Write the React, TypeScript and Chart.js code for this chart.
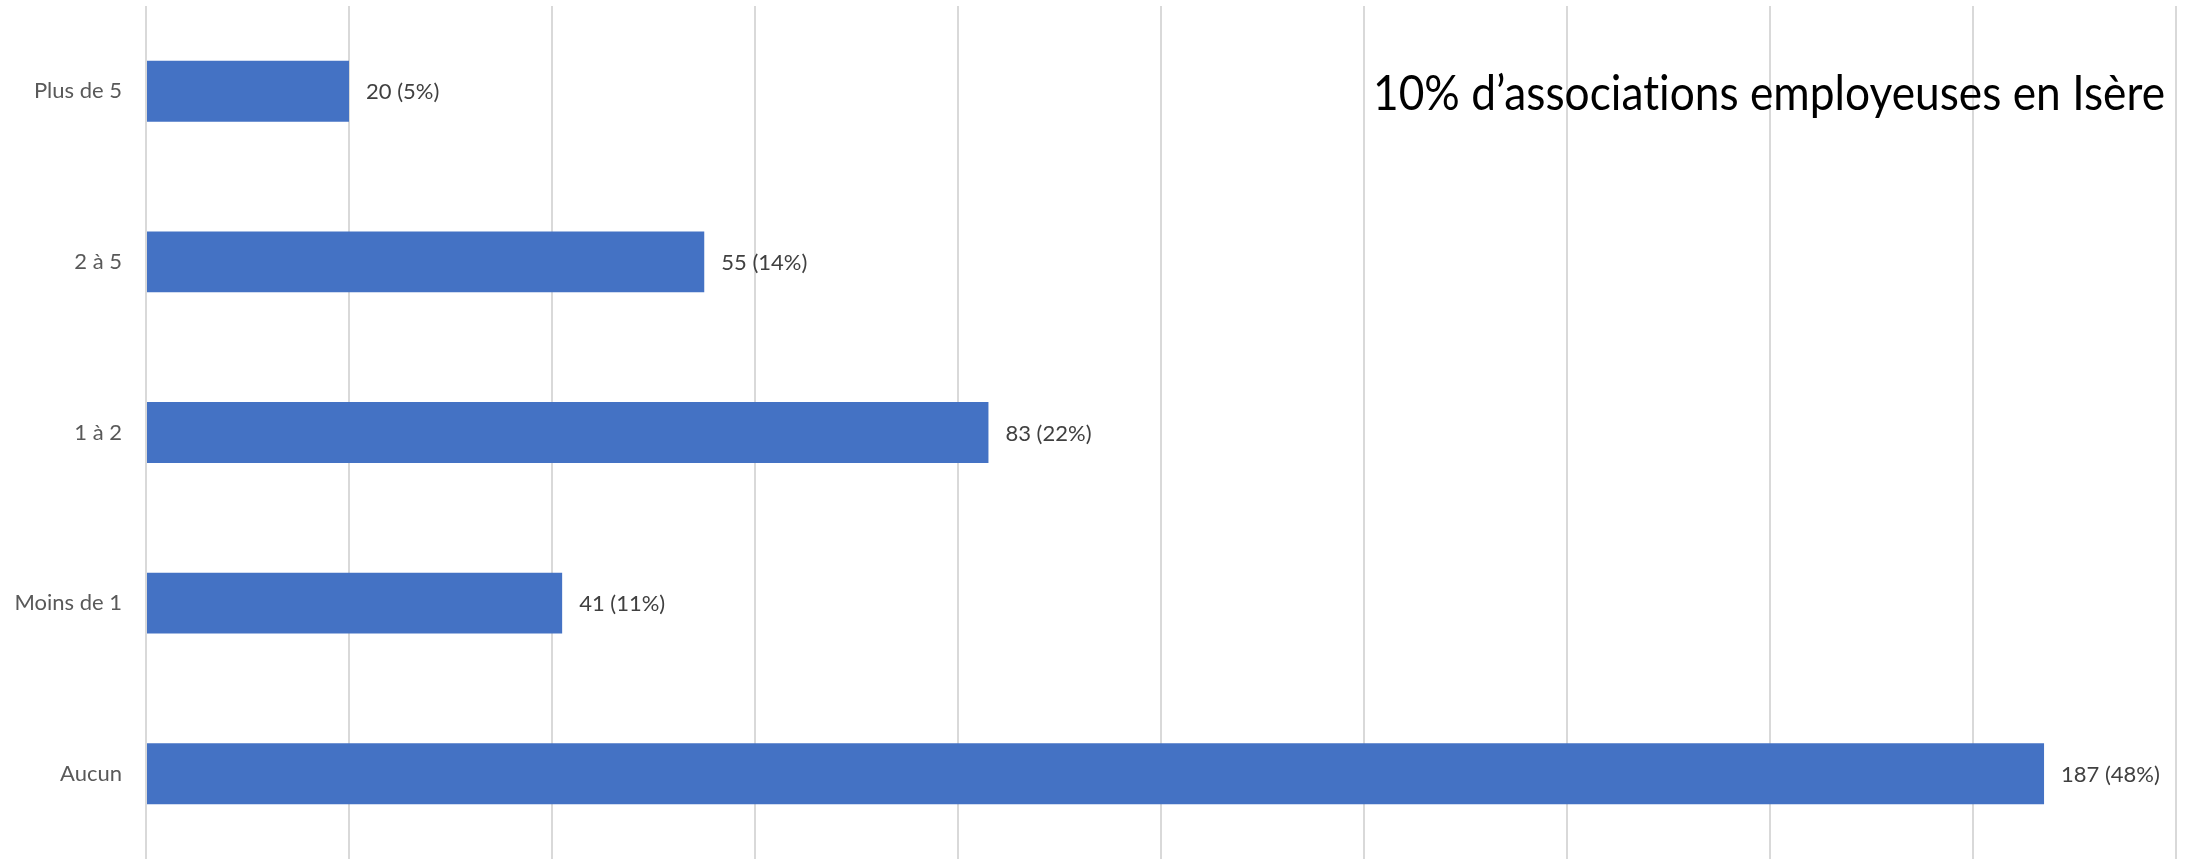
import React, { useEffect, useRef } from "react";
import { Chart, registerables } from "chart.js";

Chart.register(...registerables);

const categories = ["Plus de 5", "2 à 5", "1 à 2", "Moins de 1", "Aucun"];
const counts = [20, 55, 83, 41, 187];
const percents = [5, 14, 22, 11, 48];
const titleText = "10% d’associations employeuses en Isère";

const FONT = "Lato, 'Open Sans', sans-serif";

const valueLabelPlugin = {
  id: "valueLabels",
  afterDatasetsDraw(chart: any) {
    const ctx = chart.ctx;
    const meta = chart.getDatasetMeta(0);
    ctx.save();
    ctx.font = `22px ${FONT}`;
    ctx.fillStyle = "#404040";
    ctx.textAlign = "left";
    ctx.textBaseline = "middle";
    meta.data.forEach((bar: any, i: number) => {
      const txt = `${counts[i]} (${percents[i]}%)`;
      ctx.fillText(txt, bar.x + 17, bar.y + 1);
    });
    ctx.restore();
  },
};

const titlePlugin = {
  id: "innerTitle",
  afterDraw(chart: any) {
    const ctx = chart.ctx;
    ctx.save();
    ctx.font = `48px ${FONT}`;
    try {
      (ctx as any).letterSpacing = "0.01px";
    } catch (e) {}
    ctx.fillStyle = "#000000";
    ctx.textAlign = "left";
    ctx.textBaseline = "alphabetic";
    const w = ctx.measureText(titleText).width;
    const target = 792;
    const sx = target / w;
    ctx.translate(1373, 110);
    ctx.scale(sx, 1);
    ctx.fillText(titleText, 0, 0);
    ctx.restore();
  },
};

export default function App() {
  const ref = useRef<HTMLCanvasElement | null>(null);

  useEffect(() => {
    document.body.style.margin = "0";
    if (!ref.current) return;
    const chart = new Chart(ref.current, {
      type: "bar",
      data: {
        labels: categories,
        datasets: [
          {
            data: counts,
            backgroundColor: "#4472C4",
            borderWidth: 0,
            barPercentage: 0.357,
            categoryPercentage: 1,
          },
        ],
      },
      options: {
        indexAxis: "y",
        animation: false,
        responsive: false,
        maintainAspectRatio: false,
        devicePixelRatio: 1,
        layout: { padding: { top: 6, right: 14, bottom: 0, left: 0 } },
        plugins: {
          legend: { display: false },
          tooltip: { enabled: false },
          title: { display: false },
        },
        scales: {
          x: {
            min: 0,
            max: 200,
            ticks: { display: false, stepSize: 20 },
            grid: { color: "#d9d9d9", lineWidth: 2, drawTicks: false },
            border: { display: false },
            afterFit(scale: any) {
              scale.height = 0;
              scale.paddingLeft = 0;
              scale.paddingRight = 0;
            },
          },
          y: {
            grid: { display: false, drawTicks: false },
            border: { display: false },
            ticks: {
              padding: 24,
              color: "#595959",
              font: { family: FONT, size: 22 },
            },
            afterFit(scale: any) {
              scale.width = 146;
              scale.paddingTop = 0;
              scale.paddingBottom = 0;
            },
          },
        },
      },
      plugins: [valueLabelPlugin, titlePlugin],
    });
    return () => chart.destroy();
  }, []);

  return (
    <div style={{ width: 2190, height: 859 }}>
      <canvas ref={ref} width={2190} height={859} style={{ display: "block" }} />
    </div>
  );
}
